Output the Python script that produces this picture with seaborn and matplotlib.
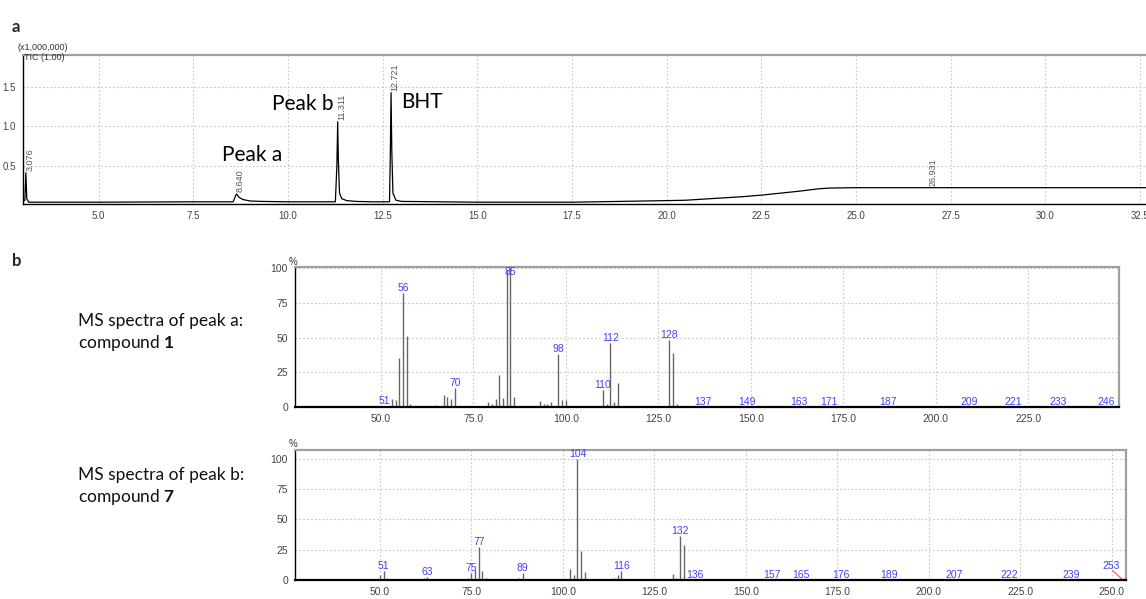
import matplotlib
matplotlib.use("Agg")
import matplotlib.pyplot as plt
from matplotlib.ticker import MultipleLocator, FixedLocator
import pandas as pd
import seaborn as sns

# ---------------- data ----------------
# (a) total ion chromatogram: retention time (min) vs intensity (x1,000,000)
rt_min = [3.00, 3.05, 3.076, 3.10, 3.15, 5.0, 7.5, 8.55, 8.60, 8.64, 8.70, 8.80, 9.0, 9.3, 10.0,
          11.25, 11.29, 11.311, 11.33, 11.36, 11.42, 11.55, 11.8, 12.2, 12.68, 12.70, 12.721,
          12.74, 12.77, 12.85, 13.0, 15.0, 17.5, 20.0, 20.5, 21.0, 21.5, 22.0, 22.5, 23.0,
          23.5, 24.0, 24.3, 25.0, 26.931, 27.5, 30.0, 32.7]
tic_intensity = [0.05, 0.06, 0.41, 0.08, 0.035, 0.035, 0.04, 0.04, 0.10, 0.14, 0.10, 0.07, 0.05,
                 0.045, 0.04, 0.04, 0.50, 1.06, 0.55, 0.15, 0.08, 0.055, 0.045, 0.04, 0.04, 0.60,
                 1.43, 0.70, 0.15, 0.06, 0.045, 0.035, 0.035, 0.055, 0.06, 0.075, 0.09, 0.105,
                 0.125, 0.15, 0.175, 0.205, 0.215, 0.22, 0.22, 0.22, 0.22, 0.22]
peak_rt = [3.076, 8.640, 11.311, 12.721, 26.931]
peak_top = [0.41, 0.14, 1.06, 1.43, 0.22]
peak_rt_labels = ["3.076", "8.640", "11.311", "12.721", "26.931"]
peak_names = ["Peak a", "Peak b", "BHT"]
peak_name_pos_rt = [9.05, 10.39, 13.53]
peak_name_pos_y = [0.635, 1.28, 1.31]
chrom_xticks = [5.0, 7.5, 10.0, 12.5, 15.0, 17.5, 20.0, 22.5, 25.0, 27.5, 30.0, 32.5]
chrom_yticks = [0.5, 1.0, 1.5]

# (b) MS spectrum of peak a (compound 1): m/z vs relative abundance (%)
mz_a = [51, 53, 54, 55, 56, 57, 58, 65, 67, 68, 69, 70, 71, 77, 79, 80, 81, 82, 83, 84, 85, 86,
        93, 94, 95, 96, 98, 99, 100, 110, 111, 112, 113, 114, 115, 128, 129, 130,
        137, 149, 163, 171, 187, 209, 221, 233, 246]
int_a = [1, 5.5, 5, 35, 82, 51, 2, 1.5, 9, 7.5, 6, 13.5, 1, 1, 3.5, 2, 6, 23, 6.5, 99, 100, 7,
         4, 2.5, 2.5, 3.5, 38, 5, 5, 12, 2.5, 46.5, 3.5, 17.5, 1, 48, 39, 2.5,
         0.3, 0.3, 0.3, 0.3, 0.3, 0.3, 0.3, 0.3, 0.3]
labels_a = [51, 56, 70, 85, 98, 110, 112, 128, 137, 149, 163, 171, 187, 209, 221, 233, 246]

# MS spectrum of peak b (compound 7)
mz_b = [50, 51, 52, 62, 63, 64, 74, 75, 76, 77, 78, 79, 88, 89, 90, 102, 103, 104, 105, 106,
        107, 114, 115, 116, 130, 131, 132, 133, 136, 157, 165, 176, 189, 207, 222, 239]
int_b = [4, 7.5, 2, 1.5, 2.7, 1, 1.5, 6, 8, 27.5, 7.5, 1.5, 2, 5.5, 0.8, 9, 4, 100, 24, 6.3,
         0.8, 1.4, 4, 7, 4.7, 2, 36, 28.5, 0.3, 0.3, 0.3, 0.3, 0.3, 0.3, 0.3, 0.3]
labels_b = [51, 63, 75, 77, 89, 104, 116, 132, 136, 157, 165, 176, 189, 207, 222, 239, 253]
ms_yticks = [0, 25, 50, 75, 100]
ms_xticks = [50.0, 75.0, 100.0, 125.0, 150.0, 175.0, 200.0, 225.0, 250.0]

# ---------------- style ----------------
sns.set_style("white")
plt.rcParams["font.family"] = ["Liberation Sans", "DejaVu Sans"]
plt.rcParams["mathtext.fontset"] = "custom"
plt.rcParams["mathtext.rm"] = "Lato"
plt.rcParams["mathtext.bf"] = "Lato:bold"

W, H = 1146, 599
fig = plt.figure(figsize=(W / 100, H / 100), dpi=100)


def px_axes(left, top, right, bottom):
    return fig.add_axes([left / W, 1 - bottom / H, (right - left) / W, (bottom - top) / H])


GRID = dict(color="#c8c8c8", linestyle=(0, (1.5, 2)), linewidth=0.8)
TICKC = "#444444"


def style_frame(ax):
    for s in ("left", "bottom"):
        ax.spines[s].set_color("black")
        ax.spines[s].set_linewidth(1.0)
    for s in ("top", "right"):
        ax.spines[s].set_color("#a0a0a0")
        ax.spines[s].set_linewidth(1.6)
    ax.tick_params(axis="both", which="major", direction="out", length=4, width=0.8,
                   colors="black", labelcolor=TICKC, labelsize=7, pad=1)
    ax.tick_params(axis="both", which="minor", direction="out", length=2.5, width=0.7,
                   colors="black")
    ax.grid(True, which="major", **GRID)
    ax.set_axisbelow(True)
    ax.set_xlabel("")
    ax.set_ylabel("")


# ---------------- chromatogram ----------------
ax1 = px_axes(23, 55, 1146, 204)
df_tic = pd.DataFrame({"rt": rt_min, "tic": tic_intensity})
sns.lineplot(data=df_tic, x="rt", y="tic", ax=ax1, color="black", linewidth=0.9,
             sort=False, estimator=None)
ax1.set_xlim(3.0, 32.66)
ax1.set_ylim(0.012, 1.91)
ax1.xaxis.set_major_locator(FixedLocator(chrom_xticks))
ax1.xaxis.set_minor_locator(MultipleLocator(0.5))
ax1.yaxis.set_major_locator(FixedLocator(chrom_yticks))
ax1.yaxis.set_minor_locator(MultipleLocator(0.1))
ax1.set_xticklabels([f"{v:.1f}" for v in chrom_xticks])
ax1.set_yticklabels([f"{v:.1f}" for v in chrom_yticks])
style_frame(ax1)
ax1.spines["right"].set_visible(False)
for rt, top, lab in zip(peak_rt, peak_top, peak_rt_labels):
    ax1.text(rt + 0.1, top + 0.02, lab, rotation=90, ha="center", va="bottom",
             fontsize=6.5, color="#555555")
for name, x, y in zip(peak_names, peak_name_pos_rt, peak_name_pos_y):
    ax1.text(x, y, name, ha="center", va="center", fontsize=15, family="Lato", color="black")
fig.text(18 / W, 1 - 48 / H, "(x1,000,000)", fontsize=6.5, color="#333333", va="center", ha="left")
fig.text(24 / W, 1 - 58 / H, "TIC (1.00)", fontsize=6.5, color="#333333", va="center", ha="left")

# ---------------- mass spectra ----------------
def draw_ms(ax, mz, inten, labels, xmax, ymax, barcolor):
    ax.vlines(mz, 0, inten, color=barcolor, linewidth=1.0)
    ax.set_xlim(26.8, xmax)
    ax.set_ylim(0, ymax)
    ax.xaxis.set_major_locator(FixedLocator(ms_xticks))
    ax.xaxis.set_minor_locator(MultipleLocator(5))
    ax.yaxis.set_major_locator(FixedLocator(ms_yticks))
    ax.yaxis.set_minor_locator(MultipleLocator(5))
    ax.set_xticklabels([f"{v:.1f}" for v in ms_xticks])
    ax.set_yticklabels([str(v) for v in ms_yticks])
    style_frame(ax)
    ax.spines["bottom"].set_linewidth(1.6)
    ax.tick_params(axis="both", which="major", labelsize=7.5)
    lookup = dict(zip(mz, inten))
    for m in labels:
        h = lookup.get(m, 0.0)
        if m == 253:
            ax.plot([250.2, 253.1], [7.8, 0], color="#ff5050", linewidth=0.8)
            ax.text(249.8, 7.6, str(m), ha="center", va="bottom", fontsize=7.5, color="#4040ff")
            continue
        y = min(h, ymax - 7.5)
        ax.text(m, y, str(m), ha="center", va="bottom", fontsize=7.5, color="#4040ff")


ax2 = px_axes(295, 267, 1119, 407)
draw_ms(ax2, mz_a, int_a, labels_a, 249.5, 101, "#666666")
ax3 = px_axes(295, 450, 1126, 580)
draw_ms(ax3, mz_b, int_b, labels_b, 253.9, 107, "#666666")

fig.text(293 / W, 1 - 262 / H, "%", fontsize=7, color="#333333", ha="center", va="center")
fig.text(293 / W, 1 - 444 / H, "%", fontsize=7, color="#333333", ha="center", va="center")

# ---------------- panel labels & captions ----------------
fig.text(12 / W, 1 - 27 / H, "a", fontsize=12, fontweight="bold", family="Lato", va="center")
fig.text(12 / W, 1 - 261 / H, "b", fontsize=12, fontweight="bold", family="Lato", va="center")
cap = dict(fontsize=12.5, family="Lato", va="center", ha="left", color="#111111")
fig.text(78 / W, 1 - 321 / H, "MS spectra of peak a:", **cap)
fig.text(78 / W, 1 - 343 / H, "compound $\\mathbf{1}$", **cap)
fig.text(78 / W, 1 - 475 / H, "MS spectra of peak b:", **cap)
fig.text(78 / W, 1 - 497 / H, "compound $\\mathbf{7}$", **cap)

fig.savefig("out.png", dpi=100)
